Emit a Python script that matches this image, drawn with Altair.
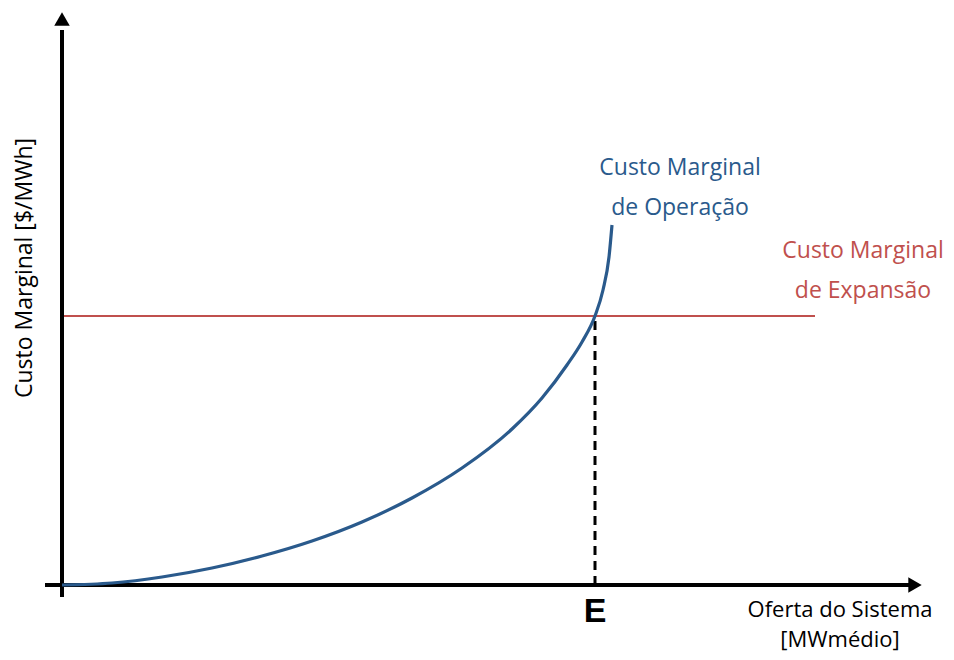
import altair as alt
import pandas as pd

# Curve: Custo Marginal de Operação (x = oferta, y = custo), arbitrary units
curve_x = [0, 50, 100, 150, 200, 250, 300, 350, 400, 450, 480, 505, 520, 533, 541, 547, 550]
curve_y = [0, 2, 8, 17, 29, 44, 63, 87, 117, 156, 187, 220, 243, 269, 295, 328, 360]

cme_value = 269      # Custo Marginal de Expansão level
cme_x_end = 753      # end of the CME line
equil_x = 533        # E: intersection
axis_x_max = 860
axis_y_max = 573

op_label = ["Custo Marginal", "de Operação"]
exp_label = ["Custo Marginal", "de Expansão"]
x_title = ["Oferta do Sistema", "[MWmédio]"]
y_title = "Custo Marginal [$/MWh]"
e_label = "E"

FONT = "Open Sans"
BLUE = "#2a5a8c"
RED = "#c0504d"

xs = alt.Scale(domain=[-54, 884], nice=False, zero=False)
ys = alt.Scale(domain=[-67, 577], nice=False, zero=False)
X = lambda f="x": alt.X(f"{f}:Q", scale=xs, axis=None)
Y = lambda f="y": alt.Y(f"{f}:Q", scale=ys, axis=None)

curve_df = pd.DataFrame({"x": curve_x, "y": curve_y})

# axes drawn as rules with arrow heads
axes_df = pd.DataFrame({
    "x": [-17, 0], "x2": [axis_x_max - 8, 0],
    "y": [0, -12], "y2": [0, axis_y_max - 18],
})
axes = alt.Chart(axes_df).mark_rule(color="black", strokeWidth=4).encode(
    x=X(), x2="x2:Q", y=Y(), y2="y2:Q"
)
arrow_r = alt.Chart(pd.DataFrame({"x": [axis_x_max - 7], "y": [0]})).mark_point(
    shape="triangle-right", filled=True, color="black", size=240, opacity=1
).encode(x=X(), y=Y())
arrow_u = alt.Chart(pd.DataFrame({"x": [0], "y": [axis_y_max - 7]})).mark_point(
    shape="triangle-up", filled=True, color="black", size=240, opacity=1
).encode(x=X(), y=Y())

cme = alt.Chart(pd.DataFrame({"x": [0], "x2": [cme_x_end], "y": [cme_value]})).mark_rule(
    color=RED, strokeWidth=2.2
).encode(x=X(), x2="x2:Q", y=Y())

dashed = alt.Chart(pd.DataFrame({"x": [equil_x], "y": [0], "y2": [cme_value]})).mark_rule(
    color="black", strokeWidth=3, strokeDash=[9, 6]
).encode(x=X(), y=Y(), y2="y2:Q")

line = alt.Chart(curve_df).mark_line(color=BLUE, strokeWidth=3.2, interpolate="monotone").encode(
    x=X(), y=Y(), order="x:Q"
)

top_x, top_y = curve_x[-1], curve_y[-1]
op_df = pd.DataFrame({"x": [top_x + 68] * 2, "y": [top_y + 57, top_y + 17], "t": op_label})
op_text = alt.Chart(op_df).mark_text(font=FONT, fontSize=23, color=BLUE, align="center", baseline="middle").encode(
    x=X(), y=Y(), text="t:N"
)
exp_df = pd.DataFrame({"x": [cme_x_end + 48] * 2, "y": [cme_value + 65, cme_value + 25], "t": exp_label})
exp_text = alt.Chart(exp_df).mark_text(font=FONT, fontSize=23, color=RED, align="center", baseline="middle").encode(
    x=X(), y=Y(), text="t:N"
)
e_df = pd.DataFrame({"x": [equil_x], "y": [-27], "t": [e_label]})
e_text = alt.Chart(e_df).mark_text(font="Liberation Sans", fontSize=34, fontWeight="bold", color="black",
                                   align="center", baseline="middle").encode(x=X(), y=Y(), text="t:N")
xt_df = pd.DataFrame({"x": [778, 778], "y": [-25, -55], "t": x_title})
xt_text = alt.Chart(xt_df).mark_text(font=FONT, fontSize=22, color="black", align="center", baseline="middle").encode(
    x=X(), y=Y(), text="t:N"
)
yt_df = pd.DataFrame({"x": [-37], "y": [317], "t": [y_title]})
yt_text = alt.Chart(yt_df).mark_text(font=FONT, fontSize=23, color="black", align="center", baseline="middle",
                                     angle=270).encode(x=X(), y=Y(), text="t:N")

chart = alt.layer(
    cme, dashed, axes, arrow_r, arrow_u, line, op_text, exp_text, e_text, xt_text, yt_text
).properties(
    width=938, height=644, padding=0, autosize=alt.AutoSizeParams(type="none")
).configure_view(stroke=None)

chart.save("out.html", embed_options={"renderer": "svg", "actions": False})
